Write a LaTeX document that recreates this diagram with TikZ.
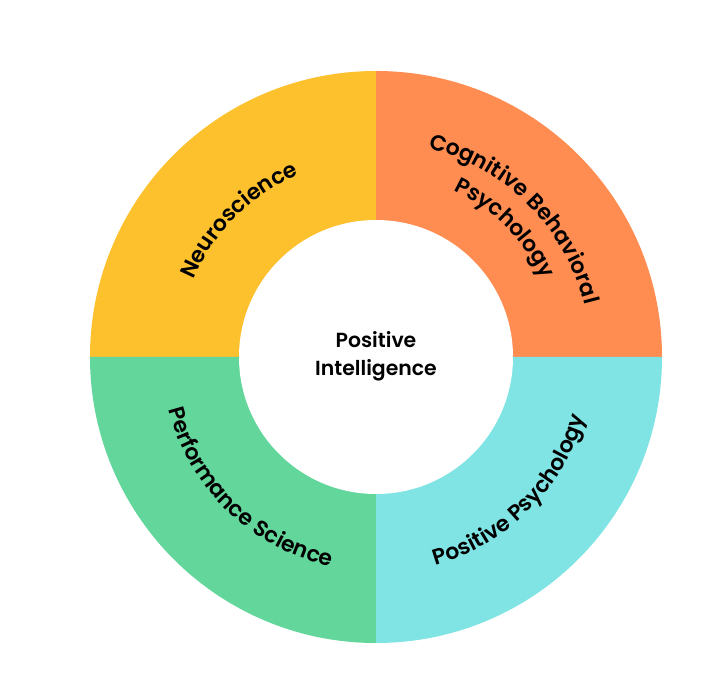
\documentclass[tikz,border=0pt]{standalone}
\usepackage{fontspec}
\setmainfont{Poppins}[BoldFont={Poppins SemiBold}]
\usetikzlibrary{decorations.text}
\definecolor{cyel}{HTML}{FDC12E}
\definecolor{corg}{HTML}{FF8D52}
\definecolor{cgrn}{HTML}{63D79B}
\definecolor{ccyn}{HTML}{81E4E4}
\tikzset{
  arctext/.style={decorate, decoration={text along path, text align=center,
    text={|\bfseries\fontsize{22}{26}\selectfont|#1}}},
}
\begin{document}
\begin{tikzpicture}[x=1bp,y=1bp]
\useasboundingbox[fill=white] (-376,-339) rectangle (350,357);
\fill[cyel] (0,0) -- (180:286bp) arc[start angle=180,end angle=90,radius=286bp] -- cycle;
\fill[corg] (0,0) -- (90:286bp) arc[start angle=90,end angle=0,radius=286bp] -- cycle;
\fill[cgrn] (0,0) -- (180:286bp) arc[start angle=180,end angle=270,radius=286bp] -- cycle;
\fill[ccyn] (0,0) -- (270:286bp) arc[start angle=270,end angle=360,radius=286bp] -- cycle;
\fill[white] (0,0) circle[radius=137bp];
\node[font=\bfseries\fontsize{20.5}{28}\selectfont, align=center] (center) at (0,1) {Positive\\Intelligence};
\path[arctext=Neuroscience] (165:198bp) arc[start angle=165,end angle=105,radius=198bp];
\path[arctext=Cognitive Behavioral] (85:215bp) arc[start angle=85,end angle=5,radius=215bp];
\path[arctext=Psychology] (75:184bp) arc[start angle=75,end angle=15,radius=184bp];
\path[arctext=Performance Science] (186:214bp) arc[start angle=186,end angle=266,radius=214bp];
\path[arctext=Positive Psychology] (275:217bp) arc[start angle=275,end angle=355,radius=217bp];
\end{tikzpicture}
\end{document}
